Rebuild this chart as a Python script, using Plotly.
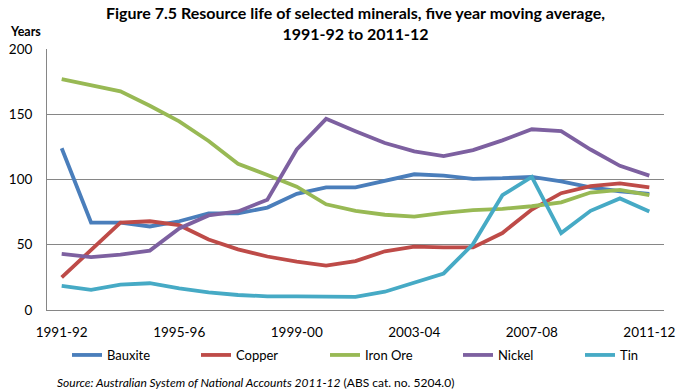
import plotly.graph_objects as go

# Years financial year labels
years = ["1991-92", "1992-93", "1993-94", "1994-95", "1995-96", "1996-97", "1997-98",
         "1998-99", "1999-00", "2000-01", "2001-02", "2002-03", "2003-04", "2004-05",
         "2005-06", "2006-07", "2007-08", "2008-09", "2009-10", "2010-11", "2011-12"]
tick_labels = ["1991-92", "1995-96", "1999-00", "2003-04", "2007-08", "2011-12"]

bauxite = [124, 67, 67, 64, 68, 74, 74, 78.5, 89, 94, 94, 99, 104, 103, 100.5, 101, 102, 98.5, 94, 91, 89]
copper = [25, 46, 67, 68, 65, 54, 46.5, 41, 37, 34, 37.5, 45, 48.5, 48, 48, 59, 77, 89.5, 95, 97, 94]
iron_ore = [177, 172.5, 167.5, 156.5, 144.5, 129.5, 112, 103.5, 94.5, 81, 76, 73, 71.5, 74.5, 76.5, 77.5, 79.5, 82.5, 90, 92, 88]
nickel = [43, 40.5, 42.5, 45.5, 62.5, 72.5, 75.5, 84.5, 123, 146.5, 137, 128, 121.5, 118, 122.5, 130, 138.5, 137, 123, 110.5, 103]
tin = [18.5, 15.5, 19.5, 20.5, 16.5, 13.5, 11.5, 10.5, 10.5, 10, 10, 14, 21, 28, 50.5, 88, 102, 59, 76, 85.5, 75.5]

series = [
    ("Bauxite", bauxite, "#4A7EBB"),
    ("Copper", copper, "#BE4B48"),
    ("Iron Ore", iron_ore, "#98B954"),
    ("Nickel", nickel, "#7D60A0"),
    ("Tin", tin, "#46AAC5"),
]

# one legend box per series so the entries sit where Excel put them
legend_x = [67, 196, 325, 458, 580]

fig = go.Figure()
legends = {}
for i, (name, vals, col) in enumerate(series):
    key = "legend" if i == 0 else f"legend{i + 1}"
    fig.add_trace(go.Scatter(x=years, y=vals, name=name, mode="lines", legend=key,
                             line=dict(color=col, width=3.8)))
    legends[key] = dict(orientation="h", x=legend_x[i] / 683, xanchor="left", xref="container",
                        y=(391 - 355) / 391, yanchor="middle", yref="container",
                        itemwidth=30, font=dict(size=13), bgcolor="rgba(0,0,0,0)")

fig.update_layout(
    width=683, height=391,
    margin=dict(l=47, r=19, t=49, b=81, autoexpand=False),
    paper_bgcolor="white", plot_bgcolor="white",
    font=dict(family="Lato, Arial, sans-serif", size=13, color="black"),
    showlegend=True,
    xaxis=dict(type="category", range=[-0.5, 20.5], tickvals=tick_labels,
               ticktext=tick_labels, showgrid=False, showline=True, automargin=False,
               linecolor="#868686", linewidth=1, ticks="", ticklabelstandoff=10,
               tickfont=dict(size=13.5)),
    yaxis=dict(range=[0, 200], tickvals=[0, 50, 100, 150, 200], showgrid=True,
               gridcolor="#868686", gridwidth=1, showline=True, linecolor="#868686",
               automargin=False, linewidth=1, zeroline=False, ticks="",
               ticklabelstandoff=11, tickfont=dict(size=13.5)),
    **legends,
)

fig.add_annotation(text="<b>Figure 7.5 Resource life of selected minerals, five year moving average,<br>1991-92 to 2011-12</b>",
                   xref="paper", yref="paper", x=0.5, y=1.182, xanchor="center", yanchor="top",
                   showarrow=False, font=dict(size=16))
fig.add_annotation(text="<b>Years</b>", xref="paper", yref="paper", x=-0.063, y=1.067,
                   xanchor="left", yanchor="middle", showarrow=False,
                   font=dict(size=12.5))
fig.add_annotation(text="<i>Source: Australian System of National Accounts 2011-12</i> (ABS cat. no. 5204.0)",
                   xref="paper", yref="paper", x=0.013, y=-0.276, xanchor="left", yanchor="middle",
                   showarrow=False, font=dict(size=12))

fig.write_html("out.html", config={"displayModeBar": False},
               post_script="document.body.style.margin='0';")
